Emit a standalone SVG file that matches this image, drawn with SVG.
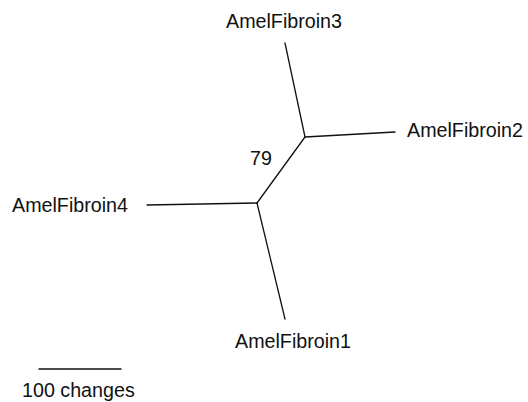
<svg xmlns="http://www.w3.org/2000/svg" width="528" height="402" viewBox="0 0 528 402">
<style>
text{font-family:"Liberation Sans",Arial,sans-serif;font-size:19.7px;fill:#111}
.e{stroke:#111;stroke-width:1.3;fill:none;stroke-linecap:round}
</style>
<rect width="528" height="402" fill="#fff"/>
<g id="connectors">
<line class="e" x1="285" y1="43" x2="305" y2="137"/>
<line class="e" x1="305" y1="137" x2="395" y2="132"/>
<line class="e" x1="305" y1="137" x2="257" y2="203"/>
<line class="e" x1="147" y1="205" x2="257" y2="203"/>
<line class="e" x1="257" y1="203" x2="285" y2="319"/>
</g>
<g id="AmelFibroin3"><text x="226" y="28">AmelFibroin3</text></g>
<g id="AmelFibroin2"><text x="407" y="137">AmelFibroin2</text></g>
<g id="AmelFibroin4"><text x="12" y="212">AmelFibroin4</text></g>
<g id="AmelFibroin1"><text x="235" y="348">AmelFibroin1</text></g>
<g id="support"><text x="250" y="165">79</text></g>
<g id="scale">
<line class="e" x1="39" y1="369" x2="121" y2="369"/>
<text x="22" y="397">100 changes</text>
</g>
</svg>
